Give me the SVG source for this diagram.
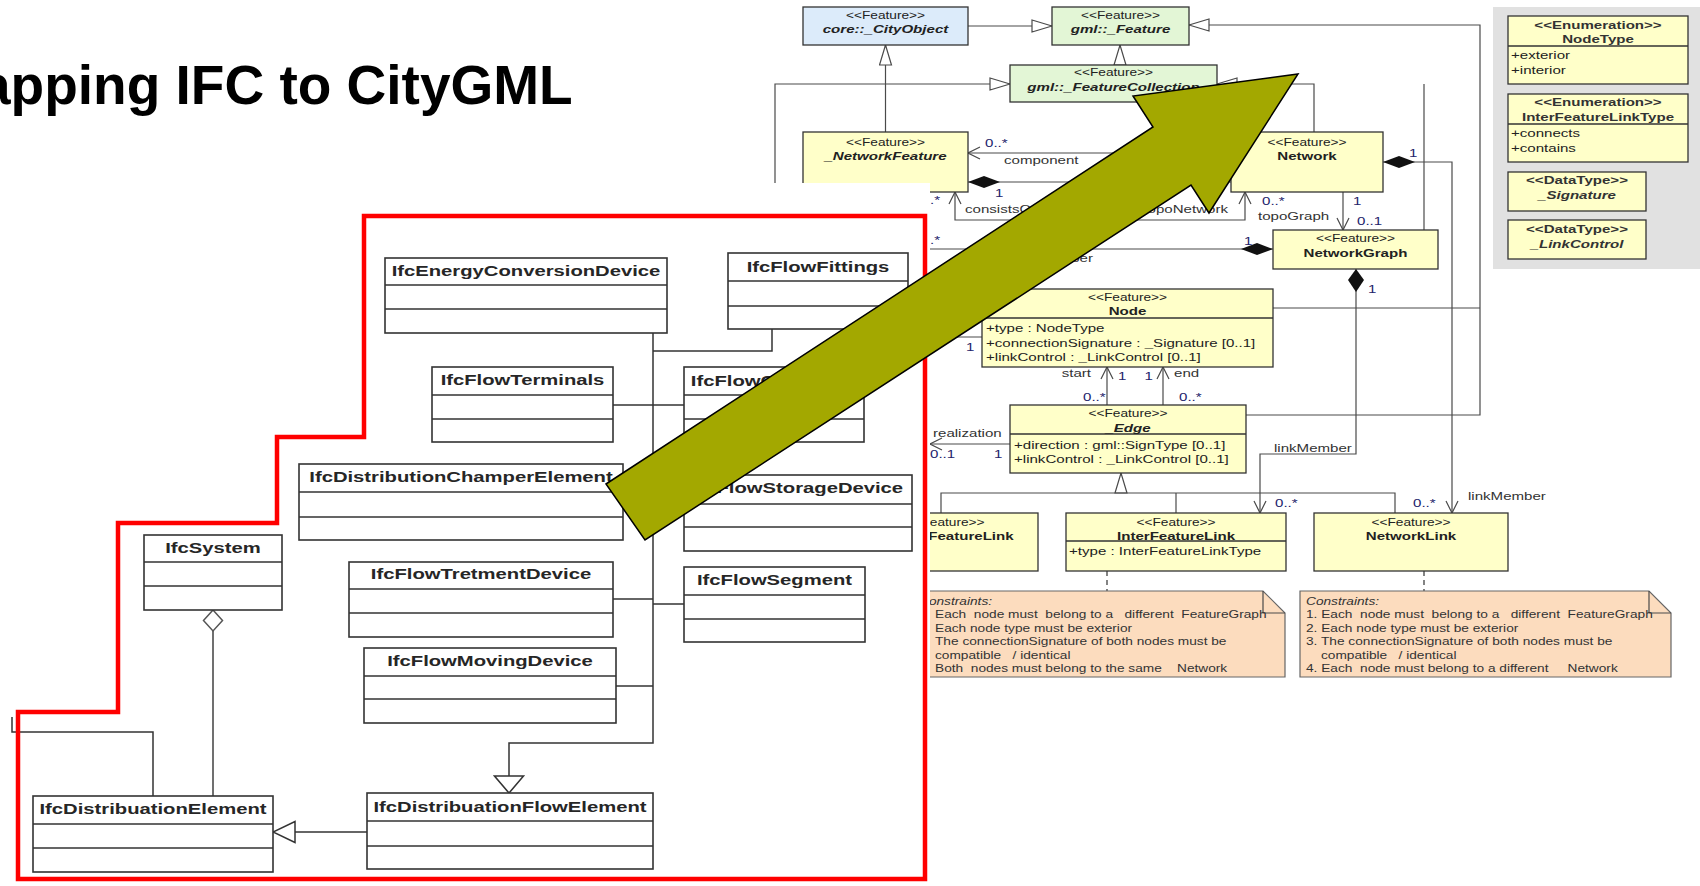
<svg xmlns="http://www.w3.org/2000/svg" width="1700" height="886" viewBox="0 0 1700 886">
<defs>
<style>
text{font-family:"Liberation Sans",Arial,sans-serif}
.st{font-size:10px;fill:#222;text-anchor:middle}
.nm{font-size:11px;font-weight:bold;fill:#222;text-anchor:middle}
.it{font-style:italic}
.at{font-size:11px;fill:#222}
.lb{font-size:11px;fill:#333}
.mu{font-size:11px;fill:#23236b}
.nt{font-size:10px;fill:#333}
.es{font-size:11px;font-weight:bold;fill:#333;text-anchor:middle}
.ea{font-size:11px;fill:#222}
.ifc{font-size:15px;font-weight:bold;fill:#262626;text-anchor:middle}
.end{text-anchor:end}
.cy{fill:#ffffc9;stroke:#333;stroke-width:1.3}
.cb{fill:#dcebfa;stroke:#333;stroke-width:1.3}
.cg{fill:#e3f6d6;stroke:#333;stroke-width:1.3}
.dv{stroke:#333;stroke-width:1.3}
.note{fill:#fcdcbe;stroke:#666;stroke-width:1.2}
.ln{fill:none;stroke:#4a4a4a;stroke-width:1.2}
.dash{fill:none;stroke:#333;stroke-width:1.2;stroke-dasharray:5 4}
.ib{fill:#fff;stroke:#333;stroke-width:1.6}
.idv{stroke:#333;stroke-width:1.6}
.il{fill:none;stroke:#333;stroke-width:1.5}
.ig{fill:none;stroke:#707070;stroke-width:2}
</style>
<marker id="gen" viewBox="0 0 22 14" refX="21" refY="7" markerWidth="22" markerHeight="14" orient="auto" markerUnits="userSpaceOnUse"><path d="M1,1 L21,7 L1,13 Z" fill="#fff" stroke="#4a4a4a" stroke-width="1.2"/></marker>
<marker id="opn" viewBox="0 0 14 14" refX="13" refY="7" markerWidth="14" markerHeight="14" orient="auto-start-reverse" markerUnits="userSpaceOnUse"><path d="M1,1 L13,7 L1,13" fill="none" stroke="#4a4a4a" stroke-width="1.2"/></marker>
<marker id="dia" viewBox="0 0 34 14" refX="1" refY="7" markerWidth="34" markerHeight="14" orient="auto" markerUnits="userSpaceOnUse"><path d="M1,7 L17,1 L33,7 L17,13 Z" fill="#111"/></marker>
<marker id="dia2" viewBox="0 0 26 18" refX="1" refY="9" markerWidth="26" markerHeight="18" orient="auto" markerUnits="userSpaceOnUse"><path d="M1,9 L12,1 L24,9 L12,17 Z" fill="#111"/></marker>
<marker id="igen" viewBox="0 0 20 32" refX="18" refY="16" markerWidth="20" markerHeight="32" orient="auto" markerUnits="userSpaceOnUse"><path d="M1,1.5 L18,16 L1,30.5 Z" fill="#fff" stroke="#333" stroke-width="1.5"/></marker>
<marker id="igen2" viewBox="0 0 24 24" refX="23" refY="12" markerWidth="24" markerHeight="24" orient="auto" markerUnits="userSpaceOnUse"><path d="M1,1.5 L23,12 L1,22.5 Z" fill="#fff" stroke="#333" stroke-width="1.5"/></marker>
<marker id="ihol" viewBox="0 0 24 22" refX="1" refY="11" markerWidth="24" markerHeight="22" orient="auto" markerUnits="userSpaceOnUse"><path d="M1,11 L11.5,1.5 L22,11 L11.5,20.5 Z" fill="#fff" stroke="#555" stroke-width="1.5"/></marker>
</defs>

<!-- CityGML network model (background) -->
<g id="citygml">
<g id="uml-connectors">
<path class="ln" d="M968,26 H1052" marker-end="url(#gen)"/>
<path class="ln" d="M1120,65 V45" marker-end="url(#gen)"/>
<path class="ln" d="M1246,415 H1480 V25 H1189" marker-end="url(#gen)"/>
<path class="ln" d="M1273,308 H1480"/>
<path class="ln" d="M885.5,132 V45" marker-end="url(#gen)"/>
<path class="ln" d="M775,183 V84 H1010" marker-end="url(#gen)"/>
<path class="ln" d="M1314,132 V84 H1217" marker-end="url(#gen)"/>
<path class="ln" d="M1424,230 V84"/>
<path class="ln" d="M1231,153 H968" marker-end="url(#opn)"/>
<path class="ln" d="M968,182 H1231" marker-start="url(#dia)"/>
<path class="ln" d="M955,192 V220 H1245 V192" marker-start="url(#opn)" marker-end="url(#opn)"/>
<path class="ln" d="M1343,192 V230" marker-end="url(#opn)"/>
<path class="ln" d="M1273,249 H930" marker-start="url(#dia)"/>
<path class="ln" d="M1383,162 H1452 V513" marker-start="url(#dia)" marker-end="url(#opn)"/>
<path class="ln" d="M1356,269 V454 H1260 V513" marker-start="url(#dia2)" marker-end="url(#opn)"/>
<path class="ln" d="M982,337 H930"/>
<path class="ln" d="M1010,444 H930" marker-end="url(#opn)"/>
<path class="ln" d="M1107,405 V367" marker-end="url(#opn)"/>
<path class="ln" d="M1163,405 V367" marker-end="url(#opn)"/>
<path class="ln" d="M1121,493 V473" marker-end="url(#gen)"/>
<path class="ln" d="M941,513 V493 H1395 V513"/>
<path class="ln" d="M1176,493 V513"/>
<path class="dash" d="M1107,571 V591"/>
<path class="dash" d="M1424,571 V591"/>
<text class="mu" transform="translate(985 147) scale(1.37 1)">0..*</text>
<text class="lb" transform="translate(1004 164) scale(1.37 1)">component</text>
<text class="mu" transform="translate(995 197) scale(1.37 1)">1</text>
<text class="lb" transform="translate(965 213) scale(1.37 1)">consistsOf</text>
<text class="lb end" transform="translate(1228 213) scale(1.37 1)">topoNetwork</text>
<text class="mu end" transform="translate(940 204) scale(1.37 1)">0..*</text>
<text class="mu end" transform="translate(940 244) scale(1.37 1)">0..*</text>
<text class="lb end" transform="translate(1093 262) scale(1.37 1)">nodeMember</text>
<text class="mu" transform="translate(1244 245) scale(1.37 1)">1</text>
<text class="mu" transform="translate(1262 205) scale(1.37 1)">0..*</text>
<text class="lb" transform="translate(1258 220) scale(1.37 1)">topoGraph</text>
<text class="mu" transform="translate(1353 205) scale(1.37 1)">1</text>
<text class="mu" transform="translate(1357 225) scale(1.37 1)">0..1</text>
<text class="mu" transform="translate(1409 157) scale(1.37 1)">1</text>
<text class="mu" transform="translate(1368 293) scale(1.37 1)">1</text>
<text class="mu" transform="translate(966 351) scale(1.37 1)">1</text>
<text class="lb end" transform="translate(1091 377) scale(1.37 1)">start</text>
<text class="mu" transform="translate(1118 380) scale(1.37 1)">1</text>
<text class="mu end" transform="translate(1153 380) scale(1.37 1)">1</text>
<text class="lb" transform="translate(1174 377) scale(1.37 1)">end</text>
<text class="mu" transform="translate(1083 401) scale(1.37 1)">0..*</text>
<text class="mu" transform="translate(1179 401) scale(1.37 1)">0..*</text>
<text class="lb" transform="translate(933 437) scale(1.37 1)">realization</text>
<text class="mu" transform="translate(930 458) scale(1.37 1)">0..1</text>
<text class="mu" transform="translate(994 458) scale(1.37 1)">1</text>
<text class="lb" transform="translate(1274 452) scale(1.37 1)">linkMember</text>
<text class="mu" transform="translate(1275 507) scale(1.37 1)">0..*</text>
<text class="mu" transform="translate(1413 507) scale(1.37 1)">0..*</text>
<text class="lb" transform="translate(1468 500) scale(1.37 1)">linkMember</text>
</g>

<g id="CityObject"><rect class="cb" x="803" y="7" width="165" height="38"/>
<text class="st" transform="translate(885.5 18.5) scale(1.37 1)">&lt;&lt;Feature&gt;&gt;</text>
<text class="nm it" transform="translate(885.5 33) scale(1.37 1)">core::_CityObject</text></g>

<g id="Feature"><rect class="cg" x="1052" y="7" width="137" height="38"/>
<text class="st" transform="translate(1120.5 18.5) scale(1.37 1)">&lt;&lt;Feature&gt;&gt;</text>
<text class="nm it" transform="translate(1120.5 33) scale(1.37 1)">gml::_Feature</text></g>

<g id="FeatureCollection"><rect class="cg" x="1010" y="65" width="207" height="37"/>
<text class="st" transform="translate(1113.5 75.5) scale(1.37 1)">&lt;&lt;Feature&gt;&gt;</text>
<text class="nm it" transform="translate(1113.5 91) scale(1.37 1)">gml::_FeatureCollection</text></g>

<g id="NetworkFeature"><rect class="cy" x="803" y="132" width="165" height="60"/>
<text class="st" transform="translate(885.5 145.5) scale(1.37 1)">&lt;&lt;Feature&gt;&gt;</text>
<text class="nm it" transform="translate(885.5 160) scale(1.37 1)">_NetworkFeature</text></g>

<g id="Network"><rect class="cy" x="1231" y="132" width="152" height="60"/>
<text class="st" transform="translate(1307 145.5) scale(1.37 1)">&lt;&lt;Feature&gt;&gt;</text>
<text class="nm" transform="translate(1307 160) scale(1.37 1)">Network</text></g>

<g id="NetworkGraph"><rect class="cy" x="1273" y="230" width="165" height="39"/>
<text class="st" transform="translate(1355.5 241.5) scale(1.37 1)">&lt;&lt;Feature&gt;&gt;</text>
<text class="nm" transform="translate(1355.5 256.5) scale(1.37 1)">NetworkGraph</text></g>

<g id="Node"><rect class="cy" x="982" y="289" width="291" height="78"/><path class="dv" d="M982,318 H1273"/>
<text class="st" transform="translate(1127.5 301) scale(1.37 1)">&lt;&lt;Feature&gt;&gt;</text>
<text class="nm" transform="translate(1127.5 315) scale(1.37 1)">Node</text>
<text class="at" transform="translate(986 331.5) scale(1.37 1)">+type : NodeType</text>
<text class="at" transform="translate(986 346.5) scale(1.37 1)">+connectionSignature : _Signature [0..1]</text>
<text class="at" transform="translate(986 361) scale(1.37 1)">+linkControl : _LinkControl [0..1]</text></g>

<g id="Edge"><rect class="cy" x="1010" y="405" width="236" height="68"/><path class="dv" d="M1010,434 H1246"/>
<text class="st" transform="translate(1128 417) scale(1.37 1)">&lt;&lt;Feature&gt;&gt;</text>
<text class="nm it" transform="translate(1128 431.5) scale(1.37 1)">_Edge</text>
<text class="at" transform="translate(1014 448.5) scale(1.37 1)">+direction : gml::SignType [0..1]</text>
<text class="at" transform="translate(1014 463) scale(1.37 1)">+linkControl : _LinkControl [0..1]</text></g>

<g id="InteriorFeatureLink"><rect class="cy" x="852" y="513" width="186" height="58"/>
<text class="st" transform="translate(945 526) scale(1.37 1)">&lt;&lt;Feature&gt;&gt;</text>
<text class="nm" transform="translate(945 540) scale(1.37 1)">InteriorFeatureLink</text></g>

<g id="InterFeatureLink"><rect class="cy" x="1066" y="513" width="220" height="58"/><path class="dv" d="M1066,541 H1286"/>
<text class="st" transform="translate(1176 526) scale(1.37 1)">&lt;&lt;Feature&gt;&gt;</text>
<text class="nm" transform="translate(1176 540) scale(1.37 1)">InterFeatureLink</text>
<text class="at" transform="translate(1069 555) scale(1.37 1)">+type : InterFeatureLinkType</text></g>

<g id="NetworkLink"><rect class="cy" x="1314" y="513" width="194" height="58"/>
<text class="st" transform="translate(1411 526) scale(1.37 1)">&lt;&lt;Feature&gt;&gt;</text>
<text class="nm" transform="translate(1411 540) scale(1.37 1)">NetworkLink</text></g>

<g id="note-InterFeatureLink"><path class="note" d="M914,591 H1263 L1285,613 V677 H914 Z"/><path class="ln" d="M1263,591 V613 H1285"/>
<text class="nt it" transform="translate(919 604.5) scale(1.37 1)">Constraints:</text>
<text class="nt" xml:space="preserve" transform="translate(935 618) scale(1.37 1)">Each  node must  belong to a   different  FeatureGraph</text>
<text class="nt" transform="translate(935 631.5) scale(1.37 1)">Each node type must be exterior</text>
<text class="nt" transform="translate(935 645) scale(1.37 1)">The connectionSignature of both nodes must be</text>
<text class="nt" xml:space="preserve" transform="translate(935 658.5) scale(1.37 1)">compatible   / identical</text>
<text class="nt" xml:space="preserve" transform="translate(935 672) scale(1.37 1)">Both  nodes must belong to the same    Network</text></g>

<g id="note-NetworkLink"><path class="note" d="M1300,591 H1649 L1671,613 V677 H1300 Z"/><path class="ln" d="M1649,591 V613 H1671"/>
<text class="nt it" transform="translate(1306 604.5) scale(1.37 1)">Constraints:</text>
<text class="nt" xml:space="preserve" transform="translate(1306 618) scale(1.37 1)">1. Each  node must  belong to a   different  FeatureGraph</text>
<text class="nt" transform="translate(1306 631.5) scale(1.37 1)">2. Each node type must be exterior</text>
<text class="nt" transform="translate(1306 645) scale(1.37 1)">3. The connectionSignature of both nodes must be</text>
<text class="nt" xml:space="preserve" transform="translate(1321 658.5) scale(1.37 1)">compatible   / identical</text>
<text class="nt" xml:space="preserve" transform="translate(1306 672) scale(1.37 1)">4. Each  node must belong to a different     Network</text></g>

<g id="types-panel"><rect x="1493" y="7" width="207" height="262" fill="#e1e1e1"/>
<g id="NodeType"><rect class="cy" x="1508" y="16" width="180" height="68"/><path class="dv" d="M1508,46 H1688"/>
<text class="es" transform="translate(1598 29) scale(1.37 1)">&lt;&lt;Enumeration&gt;&gt;</text>
<text class="es" transform="translate(1598 43) scale(1.37 1)">NodeType</text>
<text class="ea" transform="translate(1511 59) scale(1.37 1)">+exterior</text>
<text class="ea" transform="translate(1511 74) scale(1.37 1)">+interior</text></g>
<g id="InterFeatureLinkType"><rect class="cy" x="1508" y="94" width="180" height="68"/><path class="dv" d="M1508,124 H1688"/>
<text class="es" transform="translate(1598 106) scale(1.37 1)">&lt;&lt;Enumeration&gt;&gt;</text>
<text class="es" transform="translate(1598 121) scale(1.37 1)">InterFeatureLinkType</text>
<text class="ea" transform="translate(1511 137) scale(1.37 1)">+connects</text>
<text class="ea" transform="translate(1511 152) scale(1.37 1)">+contains</text></g>
<g id="Signature"><rect class="cy" x="1508" y="172" width="138" height="39"/>
<text class="es" transform="translate(1577 184) scale(1.37 1)">&lt;&lt;DataType&gt;&gt;</text>
<text class="es it" transform="translate(1577 199) scale(1.37 1)">_Signature</text></g>
<g id="LinkControl"><rect class="cy" x="1508" y="220" width="138" height="39"/>
<text class="es" transform="translate(1577 233) scale(1.37 1)">&lt;&lt;DataType&gt;&gt;</text>
<text class="es it" transform="translate(1577 248) scale(1.37 1)">_LinkControl</text></g>
</g>
</g>

<!-- IFC distribution model panel, laid over the left part -->
<rect x="0" y="183" width="930" height="703" fill="#fff"/>

<text id="title" x="-20" y="104" style="font-size:55px;font-weight:bold;fill:#000">apping IFC to CityGML</text>

<g id="ifc">
<g id="ifc-connectors">
<path class="il" d="M653,333 V743 H509 V793" marker-end="url(#igen)"/>
<path class="il" d="M772,329 V351 H653"/>
<path class="il" d="M613,405 H684"/>
<path class="il" d="M613,599 H653"/>
<path class="il" d="M653,604 H684"/>
<path class="il" d="M616,686 H653"/>
<path class="il" d="M367,832 H273" marker-end="url(#igen2)"/>
<path class="ig" d="M213,610 V796" marker-start="url(#ihol)"/>
<path class="il" d="M12,717 V732 H153 V796"/>
</g>
<g id="IfcEnergyConversionDevice"><rect class="ib" x="385" y="258" width="282" height="75"/><path class="idv" d="M385,285 H667 M385,309 H667"/>
<text class="ifc" transform="translate(526 276) scale(1.35 1)">IfcEnergyConversionDevice</text></g>
<g id="IfcFlowFittings"><rect class="ib" x="728" y="253" width="180" height="76"/><path class="idv" d="M728,281 H908 M728,306 H908"/>
<text class="ifc" transform="translate(818 272) scale(1.35 1)">IfcFlowFittings</text></g>
<g id="IfcFlowTerminals"><rect class="ib" x="432" y="367" width="181" height="75"/><path class="idv" d="M432,395 H613 M432,419 H613"/>
<text class="ifc" transform="translate(522.5 385) scale(1.35 1)">IfcFlowTerminals</text></g>
<g id="IfcFlowController"><rect class="ib" x="684" y="367" width="180" height="75"/><path class="idv" d="M684,395 H864 M684,419 H864"/>
<text class="ifc" transform="translate(774 386) scale(1.35 1)">IfcFlowController</text></g>
<g id="IfcDistributionChamperElement"><rect class="ib" x="299" y="464" width="324" height="76"/><path class="idv" d="M299,492 H623 M299,517 H623"/>
<text class="ifc" transform="translate(461 482) scale(1.35 1)">IfcDistributionChamperElement</text></g>
<g id="IfcFlowStorageDevice"><rect class="ib" x="684" y="475" width="228" height="76"/><path class="idv" d="M684,504 H912 M684,527 H912"/>
<text class="ifc" transform="translate(798 493) scale(1.35 1)">IfcFlowStorageDevice</text></g>
<g id="IfcSystem"><rect class="ib" x="144" y="535" width="138" height="75"/><path class="idv" d="M144,562 H282 M144,586 H282"/>
<text class="ifc" transform="translate(213 553) scale(1.35 1)">IfcSystem</text></g>
<g id="IfcFlowTretmentDevice"><rect class="ib" x="349" y="562" width="264" height="75"/><path class="idv" d="M349,589 H613 M349,613 H613"/>
<text class="ifc" transform="translate(481 579) scale(1.35 1)">IfcFlowTretmentDevice</text></g>
<g id="IfcFlowSegment"><rect class="ib" x="684" y="567" width="181" height="75"/><path class="idv" d="M684,595 H865 M684,619 H865"/>
<text class="ifc" transform="translate(774.5 585) scale(1.35 1)">IfcFlowSegment</text></g>
<g id="IfcFlowMovingDevice"><rect class="ib" x="364" y="648" width="252" height="75"/><path class="idv" d="M364,676 H616 M364,699 H616"/>
<text class="ifc" transform="translate(490 666) scale(1.35 1)">IfcFlowMovingDevice</text></g>
<g id="IfcDistribuationFlowElement"><rect class="ib" x="367" y="793" width="286" height="76"/><path class="idv" d="M367,821 H653 M367,846 H653"/>
<text class="ifc" transform="translate(510 812) scale(1.35 1)">IfcDistribuationFlowElement</text></g>
<g id="IfcDistribuationElement"><rect class="ib" x="33" y="796" width="240" height="76"/><path class="idv" d="M33,824 H273 M33,848 H273"/>
<text class="ifc" transform="translate(153 814) scale(1.35 1)">IfcDistribuationElement</text></g>
<path id="ifc-frame" d="M364,216 H925 V879 H18 V712 H118 V523 H277 V437 H364 Z" fill="none" stroke="#ff0000" stroke-width="4.5"/>
</g>

<!-- mapping arrow -->
<polygon id="mapping-arrow" points="606,484 1153,127 1133,96 1298,74 1209,213 1191,185 645,540" fill="#a3a800" stroke="#000" stroke-width="1.5" stroke-linejoin="miter"/>
</svg>
